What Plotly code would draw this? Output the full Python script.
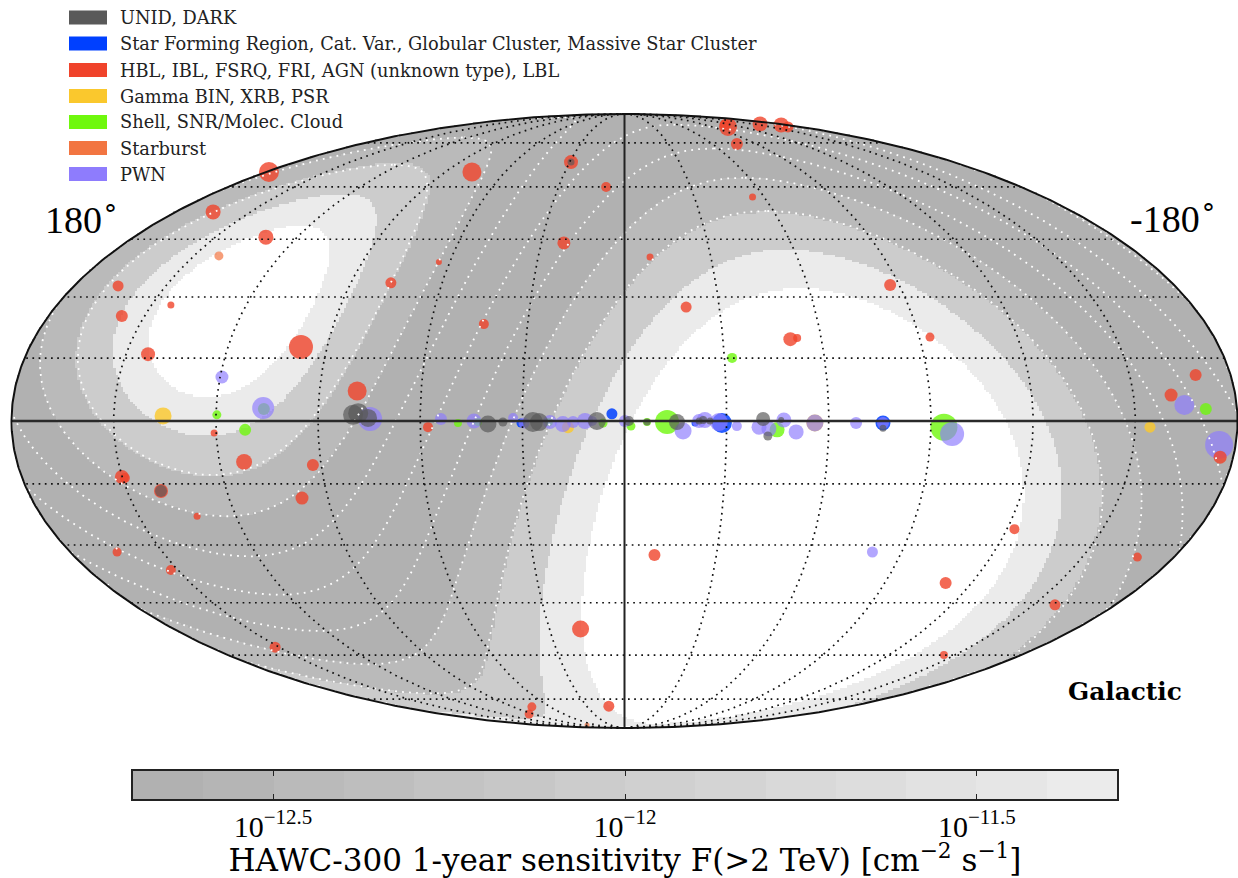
import numpy as np
import plotly.graph_objects as go

# ---- Source catalogue. Map coordinates: Mollweide plane in degrees
agn_x = [104.4,120.8,105.3,44.8,15.7,5.4,148.7,147.6,133.2,139.9,95.0,68.6,54.5,41.3,17.8,-7.5,-18.1,-37.6,78.5,-78.0,-89.7,-48.7,-50.7,-30.4,-29.5,-39.8,-46.0,-48.0,-33.0,-167.7,-160.5,-174.9,-8.8,-114.5,-94.3,-150.6,-126.4,-93.8,12.9,4.6,27.2,28.0,57.7,120.5,111.7,91.5,147.6,146.7,136.1,94.7,125.5,149.0,133.2,102.6]
agn_y = [73.0,61.3,53.9,73.0,75.9,68.6,39.6,30.8,34.0,19.6,21.7,40.5,46.6,28.4,52.2,48.1,33.4,65.7,8.8,39.9,24.6,24.0,24.3,86.2,86.8,87.1,86.8,86.2,81.2,13.5,7.6,-10.6,-39.3,-31.7,-47.5,-39.9,-53.9,-68.6,-61.0,-83.6,-83.8,-85.9,-1.8,-3.5,-12.0,-12.9,-16.4,-16.7,-20.5,-22.6,-27.9,-38.4,-43.7,-66.3]
agn_d = [20,15,15,19,14,10,11,12,7,14,24,11,6,10,13,7,11,7,19,12,9,14,8,18,11,15,15,11,12,12,13,13,12,10,12,9,11,8,17,11,9,9,10,7,16,12,14,10,14,13,7,9,10,11]

unid_x = [136.1,15.7,79.7,78.2,75.3,40.1,35.7,26.9,25.1,8.1,-1.3,-6.6,-15.4,-21.9,-23.1,-25.1,-40.7,-46.0,-42.1,-75.9]
unid_y = [-20.5,75.9,1.8,2.3,0.9,-0.9,-0.3,-0.3,-0.3,0,0,-0.3,-0.3,0,0.3,0,0.6,0.3,-4.4,-2.1]
unid_d = [12,7,20,20,18,17,9,20,18,18,10,7,16,7,8,7,14,6,9,7]

sfr_x = [30.4,3.7,-20.7,-28.6,-75.9]
sfr_y = [-0.6,2.1,-0.6,-0.6,-0.6]
sfr_d = [9,11,7,20,15]

bin_x = [135.5,16.6,-55.9,-154.3]
bin_y = [1.5,-1.8,-0.6,-1.8]
bin_d = [17,12,17,11]

snr_x = [119.7,111.4,105.9,48.9,43.0,22.2,6.3,-1.9,-6.6,-12.5,-44.8,-31.6,-170.7,-93.8]
snr_y = [1.8,-2.6,3.5,-0.6,-0.3,-0.3,-0.6,-1.5,-0.3,-0.3,-2.6,18.5,3.5,-1.8]
snr_d = [9,12,12,8,8,8,9,9,8,24,15,10,12,27]

sb_x = [119.1,11.0]
sb_y = [48.4,-89.1]
sb_d = [9,5]

pwn_x = [118.2,106.1,74.7,53.9,44.2,32.7,29.5,21.9,18.1,15.1,11.6,9.5,-0.1,-17.2,-21.9,-23.6,-27.7,-33.0,-39.5,-42.4,-46.8,-50.4,-55.9,-68.0,-75.9,-96.2,-72.8,-164.4,-174.6]
pwn_y = [12.9,3.8,0.6,0.6,0,0.9,-0.6,-0.3,-0.9,-0.3,0,0,0,-2.9,0,0.3,-0.3,-1.5,-1.8,-2.3,0.3,-3.2,-0.6,-0.6,-0.6,-3.8,-38.4,4.7,-7.0]
pwn_d = [13,22,24,12,15,10,11,14,16,12,16,10,12,17,14,16,18,10,15,15,15,15,17,12,12,24,11,20,28]

legend_labels = ["UNID, DARK",
                 "Star Forming Region, Cat. Var., Globular Cluster, Massive Star Cluster",
                 "HBL, IBL, FSRQ, FRI, AGN (unknown type), LBL",
                 "Gamma BIN, XRB, PSR",
                 "Shell, SNR/Molec. Cloud",
                 "Starburst",
                 "PWN"]
legend_colors = ["#595959", "#0040ff", "#f0432b", "#fac82d", "#6ff80d", "#f27541", "#8e7cfd"]

band_edges = [-90, -30.8, -20.7, -10.4, 0, 40, 49.5, 59.2, 68.5, 90]
band_flux = [np.nan, -11.35, -12.05, -12.4, -12.65, -12.4, -12.05, -11.35, np.nan]
dec_grid = [-10, 0, 10, 20, 30, 40, 50]

cb_min, cb_max = -12.699, -11.301
cb_grays = [177, 181, 186, 190, 195, 199, 204, 208, 212, 217, 221, 226, 230, 235]
tick_vals = [-12.5, -12.0, -11.5]
tick_text = ["10<sup>−12.5</sup>", "10<sup>−12</sup>", "10<sup>−11.5</sup>"]

W, H = 1238, 878
KX, KY = 180 / 613, 90 / 307
X_RANGE = [624.5 * KX, (624.5 - W) * KX]
Y_RANGE = [(421 - H) * KY, 421 * KY]
SERIF = "DejaVu Serif"
NGP_DEC = np.radians(27.128)
NCP_L = 122.932


def moll_theta(lat):
    phi = np.radians(lat)
    t = np.array(phi, dtype=float)
    for _ in range(60):
        t = t - (2 * t + np.sin(2 * t) - np.pi * np.sin(phi)) / (2 + 2 * np.cos(2 * t) + 1e-9)
    return t


def project(lon, lat):
    t = moll_theta(np.asarray(lat, dtype=float))
    return np.asarray(lon) * np.cos(t), 90 * np.sin(t)


def dec_of_map(mx, my):
    s = np.clip(my / 90, -1, 1)
    t = np.arcsin(s)
    b = np.arcsin(np.clip((2 * t + np.sin(2 * t)) / np.pi, -1, 1))
    with np.errstate(divide="ignore", invalid="ignore"):
        l = mx / np.cos(t)
    inside = np.abs(l) <= 180
    sd = np.sin(b) * np.sin(NGP_DEC) + np.cos(b) * np.cos(NGP_DEC) * np.cos(np.radians(NCP_L - l))
    return np.degrees(np.arcsin(np.clip(sd, -1, 1))), inside


def dec_line(dec):
    az = np.radians(np.linspace(0, 360, 721))
    d = np.radians(dec)
    sb = np.sin(d) * np.sin(NGP_DEC) + np.cos(d) * np.cos(NGP_DEC) * np.cos(az)
    b = np.arcsin(sb)
    l = NCP_L - np.degrees(np.arctan2(np.cos(d) * np.sin(az),
                                      np.sin(d) * np.cos(NGP_DEC) - np.cos(d) * np.sin(NGP_DEC) * np.cos(az)))
    l = (l + 180) % 360 - 180
    xs, ys = project(l, np.degrees(b))
    ox, oy = [], []
    for i in range(len(xs)):
        if i and abs(l[i] - l[i - 1]) > 180:
            ox.append(None); oy.append(None)
        ox.append(float(xs[i])); oy.append(float(ys[i]))
    return ox, oy


fig = go.Figure()

# sensitivity map
gx = np.linspace(-180, 180, 512)
gy = np.linspace(-90, 90, 256)
MX, MY = np.meshgrid(gx, gy)
DEC, INSIDE = dec_of_map(MX, MY)
idx = np.clip(np.digitize(DEC, band_edges) - 1, 0, len(band_flux) - 1)
Z = np.array(band_flux)[idx]
Z[~INSIDE] = np.nan
fig.add_trace(go.Heatmap(x=gx, y=gy, z=Z, coloraxis="coloraxis", hoverinfo="skip", xaxis="x", yaxis="y"))


def add_sources(x, y, d, color, name, alpha=0.82):
    fig.add_trace(go.Scatter(x=x, y=y, mode="markers", name=name,
                             marker=dict(size=d, color=color, opacity=alpha, line_width=0)))


add_sources(bin_x, bin_y, bin_d, legend_colors[3], legend_labels[3], 0.82)
add_sources(snr_x, snr_y, snr_d, legend_colors[4], legend_labels[4], 0.8)
add_sources(sfr_x, sfr_y, sfr_d, legend_colors[1], legend_labels[1], 0.85)
add_sources(pwn_x, pwn_y, pwn_d, legend_colors[6], legend_labels[6], 0.68)
add_sources(agn_x, agn_y, agn_d, legend_colors[2], legend_labels[2], 0.8)
add_sources(sb_x, sb_y, sb_d, legend_colors[5], legend_labels[5], 0.7)
add_sources(unid_x, unid_y, unid_d, legend_colors[0], legend_labels[0], 0.68)

# declination grid (white dots)
for dec in dec_grid:
    ox, oy = dec_line(dec)
    fig.add_trace(go.Scatter(x=ox, y=oy, mode="lines", hoverinfo="skip",
                             line=dict(color="white", width=1.8, dash="1.8px,5.2px")))

# galactic grid (black dots)
lat_line = np.linspace(-90, 90, 361)
for lon in range(-150, 151, 30):
    if lon == 0:
        continue
    xs, ys = project(np.full_like(lat_line, lon), lat_line)
    fig.add_trace(go.Scatter(x=xs, y=ys, mode="lines", hoverinfo="skip",
                             line=dict(color="#111111", width=1.7, dash="1.7px,4.5px")))
for lat in range(-75, 76, 15):
    if lat == 0:
        continue
    xs, ys = project(np.array([-180.0, 180.0]), np.array([lat, lat], dtype=float))
    fig.add_trace(go.Scatter(x=xs, y=ys, mode="lines", hoverinfo="skip",
                             line=dict(color="#111111", width=1.7, dash="1.7px,4.5px")))

# axes of the map and outline
fig.add_trace(go.Scatter(x=[-180, 180], y=[0, 0], mode="lines", hoverinfo="skip",
                         line=dict(color="#2a2a2a", width=2.6)))
xs, ys = project(np.zeros_like(lat_line), lat_line)
fig.add_trace(go.Scatter(x=xs, y=ys, mode="lines", hoverinfo="skip", line=dict(color="#222222", width=2)))
t = np.linspace(0, 2 * np.pi, 721)
fig.add_trace(go.Scatter(x=180 * np.cos(t), y=90 * np.sin(t), mode="lines", hoverinfo="skip",
                         line=dict(color="#111111", width=2)))

# colour bar
cb_edges = np.linspace(cb_min, cb_max, len(cb_grays) + 1)
cb_mid = (cb_edges[:-1] + cb_edges[1:]) / 2
fig.add_trace(go.Heatmap(x=cb_mid, y=[0], z=[cb_mid], coloraxis="coloraxis", hoverinfo="skip",
                         xaxis="x2", yaxis="y2"))

scale = []
for i, g in enumerate(cb_grays):
    c = f"rgb({g},{g},{g})"
    scale += [[i / len(cb_grays), c], [(i + 1) / len(cb_grays), c]]

ann = [
    dict(text="180<sup>∘</sup>", x=43 / W, y=1 - 217 / H, xanchor="left", yanchor="middle",
         font=dict(family="Liberation Serif", size=38, color="black")),
    dict(text="-180<sup>∘</sup>", x=1128 / W, y=1 - 216 / H, xanchor="left", yanchor="middle",
         font=dict(family="Liberation Serif", size=38, color="black")),
    dict(text="<b>Galactic</b>", x=1066 / W, y=1 - 691 / H, xanchor="left", yanchor="middle",
         font=dict(family=SERIF, size=24.8, color="black")),
]
shapes = []
rows = [17.5, 43.5, 70, 96, 122, 148, 174]
for lab, col, r in zip(legend_labels, legend_colors, rows):
    shapes.append(dict(type="rect", xref="paper", yref="paper", x0=69 / W, x1=107 / W,
                       y0=1 - (r + 7) / H, y1=1 - (r - 7) / H, fillcolor=col, line_width=0))
    ann.append(dict(text=lab, x=118 / W, y=1 - r / H, xanchor="left", yanchor="middle",
                    font=dict(family=SERIF, size=17.8, color="#222222")))
for a in ann:
    a.update(xref="paper", yref="paper", showarrow=False)

fig.update_layout(
    width=W, height=H, margin=dict(l=0, r=0, t=0, b=0), showlegend=False,
    paper_bgcolor="white", plot_bgcolor="rgba(0,0,0,0)",
    coloraxis=dict(cmin=cb_min, cmax=cb_max, colorscale=scale, showscale=False),
    annotations=ann, shapes=shapes,
    xaxis=dict(domain=[0, 1], range=X_RANGE, visible=False, fixedrange=True),
    yaxis=dict(domain=[0, 1], range=Y_RANGE, visible=False, fixedrange=True),
    xaxis2=dict(domain=[133 / W, 1117 / W], range=[cb_min, cb_max], anchor="y2",
                tickmode="array", tickvals=tick_vals, ticktext=tick_text,
                ticks="inside", ticklen=5, tickcolor="#222222", tickwidth=1,
                mirror="allticks", showline=True, linecolor="#222222", linewidth=1.6,
                showgrid=False, zeroline=False,
                tickfont=dict(family="Liberation Serif", size=30, color="black"),
                title=dict(text="HAWC-300 1-year sensitivity F(>2 TeV) [cm<sup>−2</sup> s<sup>−1</sup>]",
                           font=dict(family=SERIF, size=31, color="black"), standoff=5)),
    yaxis2=dict(domain=[1 - 799 / H, 1 - 771 / H], range=[-0.5, 0.5], anchor="x2",
                showticklabels=False, ticks="", showline=True, mirror=True,
                linecolor="#222222", linewidth=1.6, showgrid=False, zeroline=False),
)

fig.write_html("out.html", post_script="document.body.style.margin='0';document.body.style.overflow='hidden';",
               config=dict(displayModeBar=False))
